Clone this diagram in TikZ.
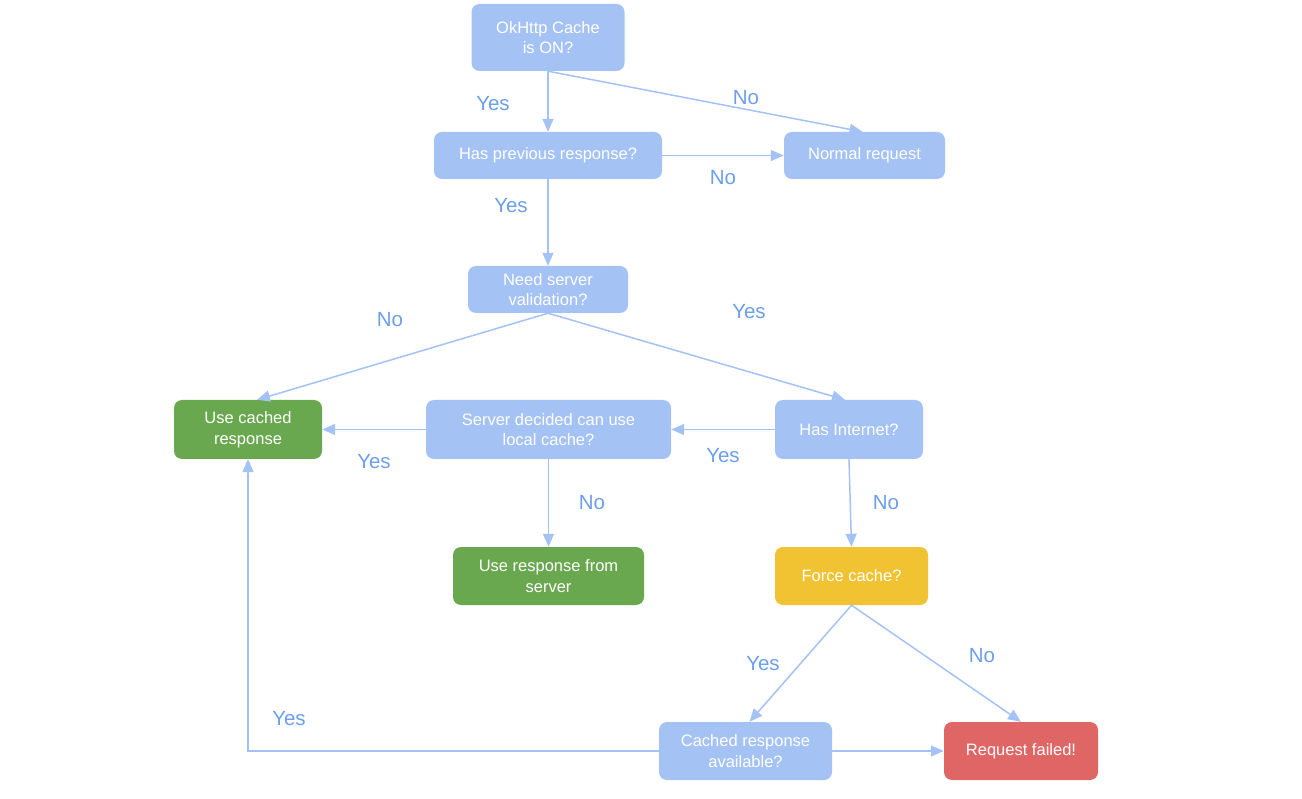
\documentclass[tikz,border=0pt]{standalone}
\usepackage{fontspec}
\setmainfont{Liberation Sans}
\usetikzlibrary{arrows.meta}
\definecolor{bluebox}{HTML}{A4C2F4}
\definecolor{greenbox}{HTML}{6AA84F}
\definecolor{yellowbox}{HTML}{F1C232}
\definecolor{redbox}{HTML}{E06666}
\definecolor{edgecol}{HTML}{A4C2F4}
\definecolor{labelcol}{HTML}{6D9EEB}
\tikzset{
  box/.style={rectangle, rounded corners=8pt, fill=bluebox, draw=none, text=white,
    font=\fontsize{16.5}{20.5}\selectfont, align=center, inner sep=0pt},
  greenb/.style={box, fill=greenbox},
  yellowb/.style={box, fill=yellowbox},
  redb/.style={box, fill=redbox},
  edge/.style={draw=edgecol, line width=1.5pt, -{Triangle[length=13pt,width=11pt]}},
  lab/.style={text=labelcol, font=\fontsize{20.5}{24}\selectfont, inner sep=0pt}
}
\begin{document}
\begin{tikzpicture}[x=1pt,y=-1pt]
\useasboundingbox (0,0) rectangle (1302,799);
\node[box, minimum width=153pt, minimum height=67pt] (ok) at (548,37.5) {OkHttp Cache\\is ON?};
\node[box, minimum width=228pt, minimum height=47pt] (hp) at (548,155.5) {Has previous response?};
\node[box, minimum width=161pt, minimum height=47pt] (nr) at (864.5,155.5) {Normal request};
\node[box, minimum width=160pt, minimum height=47pt] (nv) at (548,289.5) {Need server\\validation?};
\node[greenb, minimum width=148pt, minimum height=59pt] (uc) at (248,429.5) {Use cached\\response};
\node[box, minimum width=245pt, minimum height=59pt] (sd) at (548.5,429.5) {Server decided can use\\local cache?};
\node[box, minimum width=148pt, minimum height=59pt] (hi) at (849,429.5) {Has Internet?};
\node[greenb, minimum width=191pt, minimum height=58pt] (us) at (548.5,576) {Use response from\\server};
\node[yellowb, minimum width=153pt, minimum height=58pt] (fc) at (851.5,576) {Force cache?};
\node[box, minimum width=173pt, minimum height=58pt] (ca) at (745.5,751) {Cached response\\available?};
\node[redb, minimum width=154pt, minimum height=58pt] (rf) at (1021,751) {Request failed!};

\draw[edge] (ok.south) -- (hp.north);
\draw[edge] (ok.south) -- ([xshift=-2pt]nr.north);
\draw[edge] (hp.east) -- (nr.west);
\draw[edge] (hp.south) -- (nv.north);
\draw[edge] (nv.south) -- ([xshift=9pt]uc.north);
\draw[edge] (nv.south) -- ([xshift=-4pt]hi.north);
\draw[edge] (hi.west) -- (sd.east);
\draw[edge] (sd.west) -- (uc.east);
\draw[edge] (sd.south) -- (us.north);
\draw[edge] (hi.south) -- (fc.north);
\draw[edge] (fc.south) -- ([xshift=4pt]ca.north);
\draw[edge] (fc.south) -- (rf.north);
\draw[edge] (ca.east) -- (rf.west);
\draw[edge] (ca.west) -| (uc.south);

\node[lab] (l1) at (493,104) {Yes};
\node[lab] (l2) at (746,98) {No};
\node[lab] (l3) at (723,178) {No};
\node[lab] (l4) at (511,206) {Yes};
\node[lab] (l5) at (390,320) {No};
\node[lab] (l6) at (749,312) {Yes};
\node[lab] (l7) at (723,456) {Yes};
\node[lab] (l8) at (374,462) {Yes};
\node[lab] (l9) at (592,503) {No};
\node[lab] (l10) at (886,503) {No};
\node[lab] (l11) at (763,664) {Yes};
\node[lab] (l12) at (982,656) {No};
\node[lab] (l13) at (289,719) {Yes};
\end{tikzpicture}
\end{document}
